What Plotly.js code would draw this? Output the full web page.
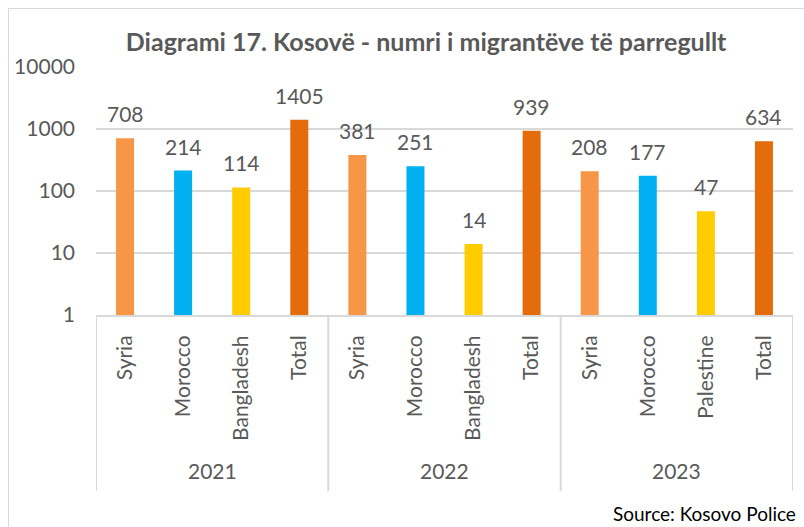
<!DOCTYPE html>
<html>
<head>
<meta charset="utf-8">
<script src="https://cdn.plot.ly/plotly-3.0.1.min.js"></script>
<style>
  html, body { margin: 0; padding: 0; background: #fff; }
  #wrap { position: relative; width: 804px; height: 527px; overflow: hidden; }
  #chart { position: absolute; left: 0; top: 0; width: 804px; height: 527px; }
  #frame { position: absolute; left: 8px; top: 8px; width: 820px; height: 560px;
           border-left: 1.5px solid #D9D9D9; border-top: 1.5px solid #D9D9D9; pointer-events: none; }
</style>
</head>
<body>
<div id="wrap"><div id="chart"></div><div id="frame"></div></div>
<script>
const years = ['2021','2021','2021','2021','2022','2022','2022','2022','2023','2023','2023','2023'];
const countries = ['Syria','Morocco','Bangladesh','Total','Syria','Morocco','Bangladesh','Total','Syria','Morocco','Palestine','Total'];
const values = [708, 214, 114, 1405, 381, 251, 14, 939, 208, 177, 47, 634];
const yearGroups = ['2021', '2022', '2023'];
const yTickVals = [1, 10, 100, 1000, 10000];
const yTickText = ['1', '10', '100', '1000', '10000'];
const colorMap = { Syria: '#F79646', Morocco: '#00B0F0', Bangladesh: '#FFCC00', Palestine: '#FFCC00', Total: '#E46C0A' };

const FONT = 'Lato, "Open Sans", "DejaVu Sans", sans-serif';
const GRAY = '#595959';
const LINE = '#D9D9D9';

const xIdx = countries.map((c, i) => i);

const bar = {
  type: 'bar',
  x: xIdx,
  y: values,
  customdata: years,
  marker: { color: countries.map(c => colorMap[c]) },
  width: 0.31,
  hoverinfo: 'y',
  showlegend: false
};

const annotations = values.map((v, i) => ({
  x: i, y: Math.log10(v), xref: 'x', yref: 'y',
  text: String(v), showarrow: false, yanchor: 'bottom', yshift: 10,
  font: { family: FONT, size: 21, color: GRAY }
}));

// year group labels and dividers
const shapes = [];
yearGroups.forEach(yr => {
  const idx = xIdx.filter(i => years[i] === yr);
  const lo = Math.min(...idx), hi = Math.max(...idx);
  annotations.push({
    x: (lo + hi) / 2, xref: 'x', y: -0.625, yref: 'paper',
    text: yr, showarrow: false, xanchor: 'center', yanchor: 'middle',
    font: { family: FONT, size: 21, color: GRAY }
  });
  shapes.push({ type: 'line', xref: 'x', yref: 'paper', x0: lo - 0.5, x1: lo - 0.5, y0: 0, y1: -0.71,
                line: { color: LINE, width: 2 } });
  if (yr === yearGroups[yearGroups.length - 1]) {
    shapes.push({ type: 'line', xref: 'x', yref: 'paper', x0: hi + 0.5, x1: hi + 0.5, y0: 0, y1: -0.71,
                  line: { color: LINE, width: 2 } });
  }
});

annotations.push({
  xref: 'paper', yref: 'paper', x: 1.007, y: -0.80, xanchor: 'right', yanchor: 'middle',
  text: 'Source: Kosovo Police', showarrow: false,
  font: { family: FONT, size: 19, color: '#000000' }
});

const layout = {
  width: 804, height: 527,
  margin: { l: 96, r: 11, t: 67, b: 212 },
  paper_bgcolor: '#ffffff', plot_bgcolor: '#ffffff',
  title: {
    text: '<b>Diagrami 17. Kosovë - numri i migrantëve të parregullt</b>',
    font: { family: FONT, size: 25, color: GRAY },
    x: 0.53, xanchor: 'center', y: 0.92, yanchor: 'middle'
  },
  xaxis: {
    type: 'linear', range: [-0.5, 11.5],
    tickmode: 'array', tickvals: xIdx, ticktext: countries,
    showline: true, linecolor: LINE, linewidth: 2,
    tickangle: -90,
    tickfont: { family: FONT, size: 21, color: GRAY },
    ticks: '', showgrid: false, zeroline: false,
    ticklabelstandoff: 10
  },
  yaxis: {
    type: 'log', range: [0, 4],
    tickvals: yTickVals, ticktext: yTickText,
    tickfont: { family: FONT, size: 21, color: GRAY },
    showgrid: true, gridcolor: LINE, gridwidth: 2,
    zeroline: false, showline: false, ticks: '',
    ticklabelstandoff: 20
  },
  shapes: shapes,
  annotations: annotations
};

Plotly.newPlot('chart', [bar], layout, { displayModeBar: false, staticPlot: true });
</script>
</body>
</html>
